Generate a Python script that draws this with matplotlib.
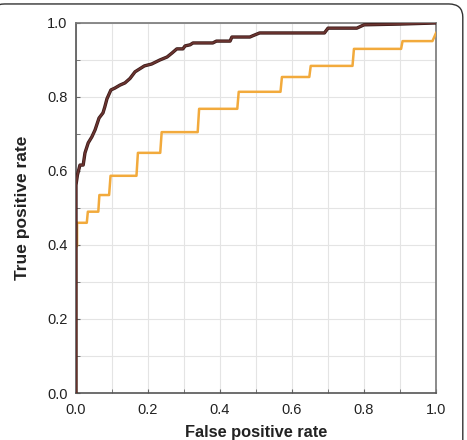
import numpy as np
import matplotlib.pyplot as plt
from matplotlib.patches import FancyBboxPatch

plt.rcParams['font.family'] = ['Liberation Sans', 'DejaVu Sans']

# dark ROC curve
fpr_a = [0.0, 0.0, 0.0, 0.004, 0.011, 0.02, 0.025, 0.034, 0.044, 0.053, 0.064,
         0.075, 0.08, 0.086, 0.097, 0.108, 0.122, 0.136, 0.15, 0.164, 0.19, 0.21,
         0.233, 0.253, 0.267, 0.28, 0.297, 0.303, 0.317, 0.325, 0.38, 0.39, 0.428,
         0.433, 0.483, 0.49, 0.51, 0.69, 0.70, 0.78, 0.80, 0.90, 1.0]
tpr_a = [0.0, 0.44, 0.562, 0.589, 0.616, 0.616, 0.649, 0.676, 0.692, 0.711, 0.743,
         0.757, 0.773, 0.795, 0.819, 0.824, 0.832, 0.838, 0.850, 0.868, 0.884, 0.889,
         0.90, 0.908, 0.919, 0.93, 0.93, 0.938, 0.941, 0.946, 0.946, 0.951, 0.951,
         0.962, 0.962, 0.965, 0.973, 0.973, 0.986, 0.986, 0.995, 0.997, 1.0]

# orange ROC curve (step-like)
fpr_b = [0.0, 0.0, 0.003, 0.003, 0.03, 0.033, 0.062, 0.065, 0.092, 0.096, 0.168,
         0.172, 0.234, 0.238, 0.338, 0.342, 0.448, 0.452, 0.568, 0.572, 0.648,
         0.652, 0.768, 0.772, 0.903, 0.907, 0.99, 1.0]
tpr_b = [0.0, 0.397, 0.397, 0.46, 0.46, 0.49, 0.49, 0.535, 0.535, 0.587, 0.587,
         0.649, 0.649, 0.705, 0.705, 0.768, 0.768, 0.814, 0.814, 0.854, 0.854,
         0.884, 0.884, 0.93, 0.93, 0.951, 0.951, 0.973]

fig = plt.figure(figsize=(4.67, 4.4), dpi=100)
ax = fig.add_axes([0.1627, 0.1068, 0.771, 0.841])

ax.plot(fpr_b, tpr_b, color="#f2aa3c", lw=1.8, zorder=3)
ax.plot(fpr_a, tpr_a, color="#3a1a18", lw=2.4, zorder=4)
ax.plot(fpr_a, tpr_a, color="#6b3430", lw=1.3, zorder=5)

ax.set_xlim(0, 1)
ax.set_ylim(0, 1)
ax.set_xticks(np.arange(0, 1.01, 0.2))
ax.set_yticks(np.arange(0, 1.01, 0.2))
ax.set_xticks(np.arange(0, 1.01, 0.1), minor=True)
ax.set_yticks(np.arange(0, 1.01, 0.1), minor=True)
ax.grid(True, which="both", color="#e4e4e4", lw=0.8)
ax.set_axisbelow(True)
ax.tick_params(which="both", direction="in", length=3, color="#666666",
               labelsize=10.5, labelcolor="#222222")
ax.tick_params(axis="x", pad=7)
ax.tick_params(axis="y", pad=6)

for side in ["left", "bottom"]:
    ax.spines[side].set_color("#555555")
for side in ["top", "right"]:
    ax.spines[side].set_color("#777777")
for s in ax.spines.values():
    s.set_linewidth(1.2)

ax.set_xlabel("False positive rate", fontsize=11.8, fontweight="bold", color="#222222", labelpad=6)
ax.set_ylabel("True positive rate", fontsize=12.5, fontweight="bold", color="#222222", labelpad=12)

# rounded frame around the figure
frame = FancyBboxPatch((-0.02, -0.1), 1.011, 1.091, boxstyle="round,pad=0,rounding_size=0.03",
                       transform=fig.transFigure, fill=False, ec="#333333", lw=1.0,
                       clip_on=False)
fig.patches.append(frame)

fig.savefig("out.png", dpi=100)
